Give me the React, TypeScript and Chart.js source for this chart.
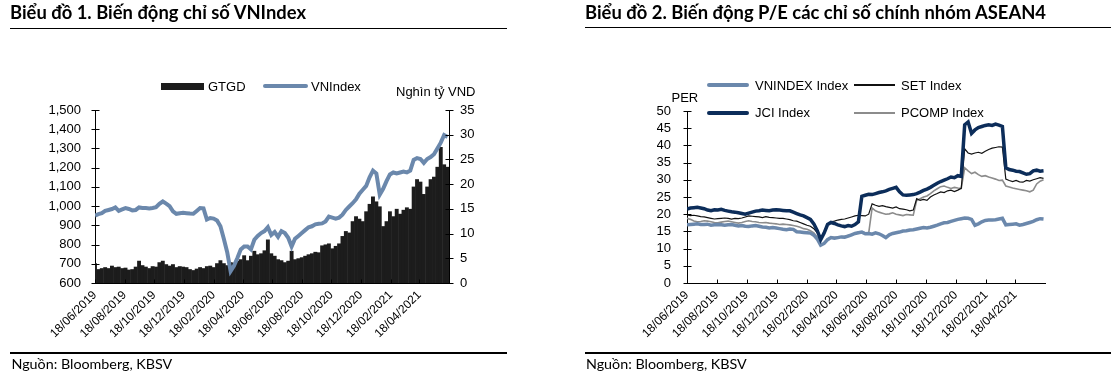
import React, { useEffect, useRef } from 'react';
import { Chart, registerables } from 'chart.js';

Chart.register(...registerables);

// ---------- DATA ----------
const START_DATE = '18/06/2019';
const END_DATE = '18/06/2021';
const STEP_DAYS = 7; // weekly observations

const xTickLabels = [
  '18/06/2019', '18/08/2019', '18/10/2019', '18/12/2019', '18/02/2020', '18/04/2020',
  '18/06/2020', '18/08/2020', '18/10/2020', '18/12/2020', '18/02/2021', '18/04/2021',
];

// Chart 1: VNIndex (points) and GTGD (thousand billion VND)
const vnIndex = [
  951, 958, 963, 975, 980, 985, 993, 975, 983, 990,
  985, 978, 980, 993, 990, 990, 988, 990, 994, 1012,
  1024, 1013, 1000, 973, 960, 963, 965, 963, 961, 960,
  975, 990, 988, 930, 938, 935, 925, 895, 830, 760,
  662, 690, 730, 775, 790, 790, 775, 825, 845, 860,
  870, 890, 850, 865, 840, 870, 860, 835, 790, 830,
  845, 860, 875, 890, 895, 905, 908, 910, 920, 945,
  940, 935, 940, 955, 980, 998, 1015, 1035, 1065, 1085,
  1105, 1150, 1185, 1170, 1060, 1090, 1130, 1165, 1175, 1170,
  1175, 1180, 1175, 1185, 1240, 1250, 1245, 1225, 1245, 1255,
  1270, 1300, 1330, 1370, 1360,
];

const gtgd = [
  4.0, 2.8, 3.0, 3.2, 3.0, 3.5, 3.2, 3.3, 3.0, 3.1,
  2.7, 2.8, 3.3, 4.5, 3.6, 3.3, 3.0, 3.4, 3.3, 4.2,
  4.5, 3.8, 3.5, 3.8, 3.2, 3.4, 3.3, 3.2, 2.8, 2.6,
  2.9, 3.2, 3.0, 3.4, 3.5, 3.2, 4.0, 4.6, 4.0, 3.6,
  4.2, 4.1, 4.5, 4.8, 5.6, 4.6, 5.5, 6.5, 5.8, 6.0,
  6.6, 8.8, 6.0, 5.5, 4.8, 4.6, 4.2, 4.5, 6.5, 4.8,
  5.0, 5.2, 5.5, 5.8, 6.0, 6.3, 6.2, 7.6, 7.8, 8.0,
  7.0, 7.5, 8.0, 9.5, 10.5, 10.2, 12.5, 13.5, 13.0, 12.5,
  14.5, 16.0, 17.5, 16.5, 15.5, 11.5, 12.5, 14.5, 13.5, 15.0,
  14.0, 14.8, 15.3, 15.0, 19.5, 21.0, 20.5, 18.0, 19.5, 21.0,
  21.5, 23.5, 27.5, 24.0, 23.5,
];

const leftTicks1 = { min: 600, max: 1500, step: 100 };
const rightTicks1 = { min: 0, max: 35, step: 5 };

// Chart 2: P/E of ASEAN4 indices
const peVnindex = [
  16.9, 17.0, 17.1, 17.2, 17.0, 17.0, 17.1, 16.8, 16.9, 17.0,
  16.9, 16.8, 16.9, 17.0, 16.8, 16.6, 16.7, 16.5, 16.4, 16.6,
  16.7, 16.5, 16.3, 16.2, 16.0, 16.1, 16.0, 15.8, 15.6, 15.5,
  15.7, 15.6, 14.9, 14.8, 14.7, 14.6, 14.5, 13.9, 12.8, 11.0,
  11.5, 12.6, 13.2, 13.0, 13.2, 13.4, 13.3, 13.6, 14.0, 14.4,
  14.6, 14.8, 14.3, 14.4, 14.2, 14.6, 14.3, 13.8, 13.2, 14.0,
  14.4, 14.6, 14.8, 15.1, 15.2, 15.4, 15.5, 15.7, 15.9, 16.1,
  16.0, 16.2, 16.5, 16.8, 17.2, 17.5, 17.6, 17.9, 18.2, 18.5,
  18.7, 18.9, 18.8, 18.5, 16.8, 17.2, 17.8, 18.2, 18.3, 18.3,
  18.4, 18.6, 18.8, 16.9, 17.0, 17.1, 17.2, 16.8, 17.0, 17.3,
  17.6, 17.9, 18.4, 18.7, 18.6,
];

const peSet = [
  19.8, 19.6, 19.7, 19.5, 19.3, 19.2, 19.0, 18.8, 18.6, 18.7,
  18.8, 18.9, 18.8, 18.6, 18.8, 18.7, 18.9, 19.2, 19.5, 19.4,
  19.3, 19.2, 19.0, 19.3, 19.1, 19.0, 18.9, 18.8, 18.8, 18.6,
  18.4, 18.1, 18.0, 17.6, 17.2, 16.8, 16.5, 15.8, 14.6, 12.8,
  15.0, 17.2, 17.8, 18.0, 18.3, 18.5, 18.6, 18.9, 19.2, 19.5,
  19.7, 19.6, 19.5, 20.0, 23.0, 22.6, 22.3, 22.5, 22.2, 22.0,
  21.8, 22.1, 21.6, 21.5, 21.3, 21.0, 21.2, 24.5, 24.0, 24.3,
  24.0, 25.0, 25.6, 26.0, 26.5, 26.3, 26.8, 27.0, 26.6, 27.0,
  27.5, 39.0, 37.8, 37.5, 37.8, 38.0, 37.7, 38.3, 38.8, 39.2,
  39.4, 39.6, 39.5, 30.2, 29.8, 29.5, 29.8, 29.4, 29.3, 29.8,
  29.6, 30.0, 30.3, 30.6, 30.4,
];

const peJci = [
  21.5, 21.8, 21.9, 22.0, 21.8, 21.6, 21.2, 21.0, 21.3, 21.2,
  21.4, 21.1, 20.9, 20.7, 20.6, 20.4, 20.2, 20.0, 20.3, 20.6,
  20.9, 21.0, 21.2, 21.1, 21.0, 21.2, 21.3, 21.2, 21.1, 21.0,
  21.0, 20.6, 20.2, 19.8, 19.5, 19.0, 18.5, 17.2, 15.2, 12.6,
  14.5, 17.0, 17.6, 17.3, 16.9, 16.6, 16.4, 16.7, 16.5, 17.0,
  17.8, 25.2, 25.5, 25.8, 25.7, 26.0, 26.3, 26.5, 26.8, 27.2,
  27.5, 27.8, 26.5, 25.6, 25.5, 25.6, 25.7, 26.0, 26.4, 26.9,
  27.3, 27.8, 28.4, 29.0, 29.5, 29.9, 30.3, 30.8, 30.6, 31.2,
  31.0, 46.0, 46.8, 43.5, 44.5, 45.2, 45.5, 45.8, 46.0, 45.8,
  46.2, 45.9, 45.5, 33.5, 33.0, 32.8, 32.5, 32.4, 32.0, 31.6,
  31.8, 32.6, 32.8, 32.5, 32.6,
];

const pePcomp = [
  18.8, 18.5, 18.0, 17.8, 17.9, 18.1, 18.0, 17.8, 17.6, 17.5,
  17.7, 17.9, 18.0, 17.8, 17.6, 17.4, 17.6, 17.9, 18.1, 17.9,
  17.8, 17.6, 17.5, 17.6, 17.4, 17.3, 17.2, 17.0, 17.1, 17.0,
  16.9, 16.7, 16.5, 16.2, 15.8, 15.6, 15.2, 14.6, 13.3, 11.2,
  11.5, 12.8, 13.2, 13.3, 13.2, 13.4, 13.6, 13.9, 14.0, 14.3,
  14.8, 14.9, 14.6, 14.5, 21.8, 21.0, 20.6, 20.3, 20.0, 20.1,
  20.4, 20.0, 19.8, 19.6, 19.9, 19.8, 19.7, 24.0, 24.5, 25.0,
  25.3, 26.0, 26.8, 27.4, 28.0, 28.2, 27.8, 27.5, 27.8, 27.6,
  27.5, 33.5, 32.6, 31.8, 32.2, 31.5, 31.0, 31.2, 30.8, 30.5,
  30.2, 29.8, 29.9, 28.2, 27.9, 27.6, 27.4, 27.2, 27.0, 26.8,
  26.5, 27.0, 28.8, 29.6, 30.0,
];

const peTicks = { min: 0, max: 50, step: 5 };

// ---------- HELPERS ----------
const STEEL = '#6B88AC';
const NAVY = '#0C2D5A';
const GRAY = '#8C8C8C';
const BARS = '#1C1C1C';
const AXIS_FONT = "'Liberation Sans', Arial, sans-serif";
const TITLE_FONT = "Lato, 'Noto Sans', sans-serif";

function parseDay(label: string): number {
  const [d, m, y] = label.split('/').map(Number);
  const [d0, m0, y0] = START_DATE.split('/').map(Number);
  return Math.round((Date.UTC(y, m - 1, d) - Date.UTC(y0, m0 - 1, d0)) / 86400000);
}
const dayToLabel = new Map<number, string>(xTickLabels.map((l) => [parseDay(l), l]));
const xMax = parseDay(END_DATE);
const toPoints = (arr: number[]) => arr.map((v, i) => ({ x: i * STEP_DAYS, y: v }));

const crossTicks = {
  id: 'crossTicks',
  afterDraw(chart: any, _a: any, opts: any) {
    const { ctx, chartArea } = chart;
    const len = 4;
    ctx.save();
    ctx.strokeStyle = '#000';
    ctx.lineWidth = 1;
    ctx.beginPath();
    (opts.left || []).forEach((id: string) => {
      const s = chart.scales[id];
      const x = Math.round(chartArea.left) + 0.5;
      s.ticks.forEach((_t: any, i: number) => {
        const y = Math.round(s.getPixelForTick(i)) + 0.5;
        ctx.moveTo(x - len, y);
        ctx.lineTo(x + len, y);
      });
    });
    (opts.right || []).forEach((id: string) => {
      const s = chart.scales[id];
      const x = Math.round(chartArea.right) + 0.5;
      s.ticks.forEach((_t: any, i: number) => {
        const y = Math.round(s.getPixelForTick(i)) + 0.5;
        ctx.moveTo(x - len, y);
        ctx.lineTo(x + len, y);
      });
    });
    (opts.x || []).forEach((id: string) => {
      const s = chart.scales[id];
      const y = Math.round(chartArea.bottom) + 0.5;
      s.ticks.forEach((_t: any, i: number) => {
        const x = Math.round(s.getPixelForTick(i)) + 0.5;
        ctx.moveTo(x, y);
        ctx.lineTo(x, y - len);
      });
    });
    ctx.stroke();
    ctx.restore();
  },
};

function xScale(height: number) {
  return {
    type: 'linear',
    min: 0,
    max: xMax,
    offset: false,
    afterBuildTicks: (s: any) => {
      s.ticks = xTickLabels.map((l) => ({ value: parseDay(l) }));
    },
    afterFit: (s: any) => {
      s.height = height;
    },
    ticks: {
      autoSkip: false,
      minRotation: 45,
      maxRotation: 45,
      padding: 5,
      color: '#000',
      font: { family: AXIS_FONT, size: 12 },
      callback: (v: number) => dayToLabel.get(v) ?? '',
    },
    grid: { display: false, drawTicks: false, offset: false },
    border: { display: true, color: '#000', width: 1 },
  };
}

function yScale(t: { min: number; max: number; step: number }, position: string, width: number, padding: number, fmt?: (v: number) => string) {
  return {
    type: 'linear',
    position,
    min: t.min,
    max: t.max,
    afterFit: (s: any) => {
      s.width = width;
    },
    ticks: {
      stepSize: t.step,
      autoSkip: false,
      padding,
      color: '#000',
      font: { family: AXIS_FONT, size: 13 },
      callback: (v: number) => (fmt ? fmt(v) : String(v)),
    },
    grid: { display: false, drawTicks: false },
    border: { display: true, color: '#000', width: 1 },
  };
}

const measureCtx = typeof document !== 'undefined' ? document.createElement('canvas').getContext('2d') : null;
function fitSize(text: string, weight: number, family: string, target: number): number {
  if (!measureCtx) return 16;
  measureCtx.font = `${weight} 100px ${family}`;
  const w = measureCtx.measureText(text).width;
  return (100 * target) / w;
}

// Text positioned by its cap-height centre
function Txt(props: { x: number; y: number; text: string; size: number; family: string; weight?: number; capK: number; color?: string }) {
  const { x, y, text, size, family, weight = 400, capK, color = '#000' } = props;
  return (
    <div
      style={{
        position: 'absolute',
        left: x,
        top: y - capK * size,
        fontFamily: family,
        fontSize: size,
        fontWeight: weight,
        lineHeight: `${size}px`,
        whiteSpace: 'nowrap',
        color,
      }}
    >
      {text}
    </div>
  );
}

function Rule({ x1, x2, y, h = 1.3 }: { x1: number; x2: number; y: number; h?: number }) {
  return <div style={{ position: 'absolute', left: x1, top: y - h / 2, width: x2 - x1, height: h, background: '#000' }} />;
}

function Swatch({ x1, x2, y, h, color, round }: { x1: number; x2: number; y: number; h: number; color: string; round?: boolean }) {
  return (
    <div
      style={{
        position: 'absolute',
        left: x1,
        top: y - h / 2,
        width: x2 - x1,
        height: h,
        background: color,
        borderRadius: round ? h / 2 : 0,
      }}
    />
  );
}

// ---------- CHARTS ----------
function VnIndexChart() {
  const ref = useRef<HTMLCanvasElement>(null);
  useEffect(() => {
    if (!ref.current) return;
    const chart = new Chart(ref.current, {
      type: 'bar',
      data: {
        datasets: [
          {
            type: 'line',
            label: 'VNIndex',
            data: toPoints(vnIndex),
            yAxisID: 'y',
            borderColor: STEEL,
            borderWidth: 4,
            pointRadius: 0,
            tension: 0,
            order: 1,
          } as any,
          {
            type: 'bar',
            label: 'GTGD',
            data: toPoints(gtgd),
            yAxisID: 'y2',
            backgroundColor: BARS,
            borderWidth: 0,
            barPercentage: 1.15,
            categoryPercentage: 1,
            order: 2,
          } as any,
        ],
      },
      options: {
        responsive: false,
        animation: false,
        events: [],
        layout: { padding: { left: 40, right: 76, top: 110, bottom: 30 } },
        plugins: { legend: { display: false }, tooltip: { enabled: false }, crossTicks: { left: ['y'], right: ['y2'], x: ['x'] } } as any,
        scales: {
          x: xScale(60) as any,
          y: yScale(leftTicks1, 'left', 55, 14, (v) => v.toLocaleString('en-US')) as any,
          y2: yScale(rightTicks1, 'right', 35, 11) as any,
        },
      },
      plugins: [crossTicks],
    });
    return () => chart.destroy();
  }, []);
  return <canvas ref={ref} width={560} height={373} style={{ position: 'absolute', left: 0, top: 0, width: 560, height: 373 }} />;
}

function PeChart() {
  const ref = useRef<HTMLCanvasElement>(null);
  useEffect(() => {
    if (!ref.current) return;
    const line = (label: string, data: number[], color: string, width: number, order: number) => ({
      label,
      data: toPoints(data),
      borderColor: color,
      borderWidth: width,
      pointRadius: 0,
      tension: 0,
      order,
    });
    const chart = new Chart(ref.current, {
      type: 'line',
      data: {
        datasets: [
          line('PCOMP Index', pePcomp, GRAY, 1.6, 4),
          line('SET Index', peSet, '#111111', 1.2, 3),
          line('VNINDEX Index', peVnindex, STEEL, 3.5, 2),
          line('JCI Index', peJci, NAVY, 3.5, 1),
        ] as any,
      },
      options: {
        responsive: false,
        animation: false,
        events: [],
        layout: { padding: { left: 97, right: 66, top: 111, bottom: 30 } },
        plugins: { legend: { display: false }, tooltip: { enabled: false }, crossTicks: { left: ['y'], x: ['x'] } } as any,
        scales: {
          x: xScale(60) as any,
          y: yScale(peTicks, 'left', 30, 16) as any,
        },
      },
      plugins: [crossTicks],
    });
    return () => chart.destroy();
  }, []);
  return <canvas ref={ref} width={551} height={373} style={{ position: 'absolute', left: 560, top: 0, width: 551, height: 373 }} />;
}

export default function App() {
  const title1 = 'Biểu đồ 1. Biến động chỉ số VNIndex';
  const title2 = 'Biểu đồ 2. Biến động P/E các chỉ số chính nhóm ASEAN4';
  const source = 'Nguồn: Bloomberg, KBSV';
  const t1 = fitSize(title1, 700, TITLE_FONT, 297);
  const t2 = fitSize(title2, 700, TITLE_FONT, 462);
  const fs = fitSize(source, 400, TITLE_FONT, 161);
  const LATO_K = 0.529;
  const ARIAL_K = 0.489;
  return (
    <div style={{ position: 'absolute', left: 0, top: 0, width: 1111, height: 373, background: '#fff', overflow: 'hidden' }}>
      <VnIndexChart />
      <PeChart />

      {/* Chart 1 frame */}
      <Txt x={10} y={12.5} text={title1} size={t1} family={TITLE_FONT} weight={700} capK={LATO_K} />
      <Rule x1={10} x2={507} y={28.3} />
      <Rule x1={10} x2={507} y={353} />
      <Txt x={11.5} y={364.3} text={source} size={fs} family={TITLE_FONT} capK={LATO_K} />

      {/* Chart 1 legend */}
      <Swatch x1={161} x2={204} y={86} h={7} color={BARS} />
      <Txt x={208} y={86} text="GTGD" size={13} family={AXIS_FONT} capK={ARIAL_K} />
      <Swatch x1={263} x2={308} y={86} h={4} color={STEEL} round />
      <Txt x={311} y={86} text="VNIndex" size={13} family={AXIS_FONT} capK={ARIAL_K} />
      <Txt x={396} y={91} text="Nghìn tỷ VND" size={13} family={AXIS_FONT} capK={ARIAL_K} />

      {/* Chart 2 frame */}
      <Txt x={585} y={12.5} text={title2} size={t2} family={TITLE_FONT} weight={700} capK={LATO_K} />
      <Rule x1={585} x2={1111} y={27.5} />
      <Rule x1={585} x2={1111} y={353} />
      <Txt x={586} y={364.3} text={source} size={fs} family={TITLE_FONT} capK={LATO_K} />

      {/* Chart 2 legend */}
      <Txt x={671.5} y={97} text="PER" size={13} family={AXIS_FONT} capK={ARIAL_K} />
      <Swatch x1={707} x2={749} y={85} h={4} color={STEEL} round />
      <Txt x={755} y={85} text="VNINDEX Index" size={13} family={AXIS_FONT} capK={ARIAL_K} />
      <Swatch x1={854} x2={895} y={85} h={1.4} color="#111111" />
      <Txt x={901} y={85} text="SET Index" size={13} family={AXIS_FONT} capK={ARIAL_K} />
      <Swatch x1={707} x2={749} y={112.7} h={4} color={NAVY} round />
      <Txt x={755} y={112.7} text="JCI Index" size={13} family={AXIS_FONT} capK={ARIAL_K} />
      <Swatch x1={854} x2={895} y={112.7} h={1.8} color={GRAY} />
      <Txt x={901} y={112.7} text="PCOMP Index" size={13} family={AXIS_FONT} capK={ARIAL_K} />
    </div>
  );
}
